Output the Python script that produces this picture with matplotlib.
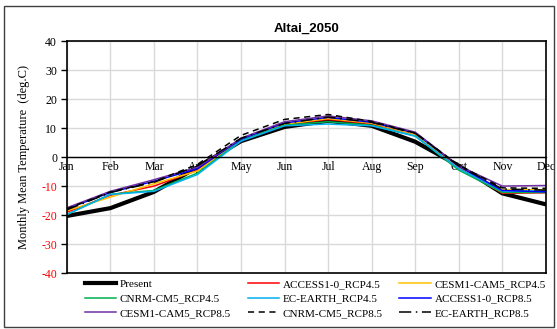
import matplotlib.pyplot as plt
from matplotlib.patches import Rectangle

# Datos: temperatura media mensual (deg.C), Altai 2050
months = ['Jan', 'Feb', 'Mar', 'Apr', 'May', 'Jun',
          'Jul', 'Aug', 'Sep', 'Oct', 'Nov', 'Dec']

present = [-20.3, -17.6, -12.0, -3.5, 5.5, 10.4, 12.5, 10.8, 5.3, -3.0, -12.5, -16.3]
access_45 = [-19.0, -13.2, -10.0, -4.5, 6.0, 11.3, 13.0, 11.5, 8.0, -3.5, -12.5, -12.3]
cesm_45 = [-18.5, -13.8, -9.2, -4.8, 6.0, 11.3, 13.3, 11.7, 8.0, -3.5, -11.2, -11.3]
cnrm_45 = [-19.8, -12.8, -11.5, -5.5, 5.8, 11.0, 12.2, 11.0, 7.3, -4.5, -12.2, -12.2]
ecearth_45 = [-19.8, -12.9, -11.8, -6.0, 5.5, 10.8, 11.4, 10.8, 7.2, -4.0, -11.7, -11.7]
access_85 = [-17.8, -12.2, -8.3, -4.0, 6.2, 11.8, 13.7, 12.0, 8.3, -3.2, -11.5, -12.0]
cesm_85 = [-17.5, -11.8, -7.8, -3.5, 6.5, 12.2, 14.2, 12.5, 8.6, -3.0, -10.0, -9.8]
cnrm_85 = [-17.8, -12.0, -8.5, -2.5, 7.5, 13.0, 14.7, 12.3, 8.3, -2.8, -10.6, -10.8]
ecearth_85 = [-18.2, -12.2, -8.7, -3.0, 6.5, 11.6, 13.8, 12.0, 8.2, -3.0, -11.0, -11.4]

y_ticks = [-40, -30, -20, -10, 0, 10, 20, 30, 40]

serif = 'Liberation Serif'
plt.rcParams['font.family'] = serif
plt.rcParams['font.size'] = 8

fig = plt.figure(figsize=(5.57, 3.29), dpi=100)
ax = fig.add_axes([0.120, 0.170, 0.860, 0.705])

# Marco exterior del gráfico
fig.patches.append(Rectangle((0.007, 0.006), 0.988, 0.976, transform=fig.transFigure,
                             fill=False, edgecolor='#404040', linewidth=1.0))

x = list(range(len(months)))

ax.plot(x, present, color='black', lw=3.0, label='Present')
ax.plot(x, access_45, color='#FF0000', lw=1.1, label='ACCESS1-0_RCP4.5')
ax.plot(x, cesm_45, color='#FFC000', lw=1.1, label='CESM1-CAM5_RCP4.5')
ax.plot(x, cnrm_45, color='#00B050', lw=1.1, label='CNRM-CM5_RCP4.5')
ax.plot(x, ecearth_45, color='#00B0F0', lw=1.1, label='EC-EARTH_RCP4.5')
ax.plot(x, access_85, color='#0000FF', lw=1.1, label='ACCESS1-0_RCP8.5')
ax.plot(x, cesm_85, color='#7030A0', lw=1.1, label='CESM1-CAM5_RCP8.5')
ax.plot(x, cnrm_85, color='black', lw=1.1, ls=(0, (4, 3)), label='CNRM-CM5_RCP8.5')
ax.plot(x, ecearth_85, color='black', lw=1.1, ls=(0, (8, 3, 1, 3)), label='EC-EARTH_RCP8.5')

# Eje X cruzando en 0, con el borde inferior del área de trazado dibujado aparte
ax.spines['bottom'].set_position(('data', 0))
ax.spines['bottom'].set_linewidth(1.0)
for s in ['left', 'right', 'top']:
    ax.spines[s].set_linewidth(1.2)
ax.axhline(-40, color='black', lw=1.2, clip_on=False)

ax.set_xlim(0, 11)
ax.set_ylim(-40, 40)
ax.set_yticks(y_ticks)
ax.set_yticklabels([str(v) for v in y_ticks])
for lab, v in zip(ax.get_yticklabels(), y_ticks):
    lab.set_color('red' if v < 0 else 'black')

ax.set_xticks(x)
ax.set_xticklabels(months)
ax.tick_params(axis='x', length=0, pad=3, labelsize=8.5)
ax.tick_params(axis='y', length=4, width=1, direction='out', pad=3, labelsize=8.5)

ax.grid(True, color='#D9D9D9', lw=1.0)
ax.set_axisbelow(True)

ax.set_title('Altai_2050', fontfamily='Liberation Sans', fontweight='bold', fontsize=9.5, pad=7)
ax.set_ylabel('Monthly Mean Temperature  (deg.C)', fontsize=9, labelpad=8)

# Leyenda en 3 columnas, rellenada por filas como en el original
handles, labels = ax.get_legend_handles_labels()
order = [0, 3, 6, 1, 4, 7, 2, 5, 8]
fig.legend([handles[i] for i in order], [labels[i] for i in order],
           loc='upper left', bbox_to_anchor=(85 / 557, 1 - 279 / 329), ncol=3, frameon=False,
           prop={'family': serif, 'size': 8}, handlelength=2.8, handletextpad=0.35,
           columnspacing=1.5, labelspacing=0.45, borderaxespad=0, borderpad=0)

fig.savefig('out.png', dpi=100)
